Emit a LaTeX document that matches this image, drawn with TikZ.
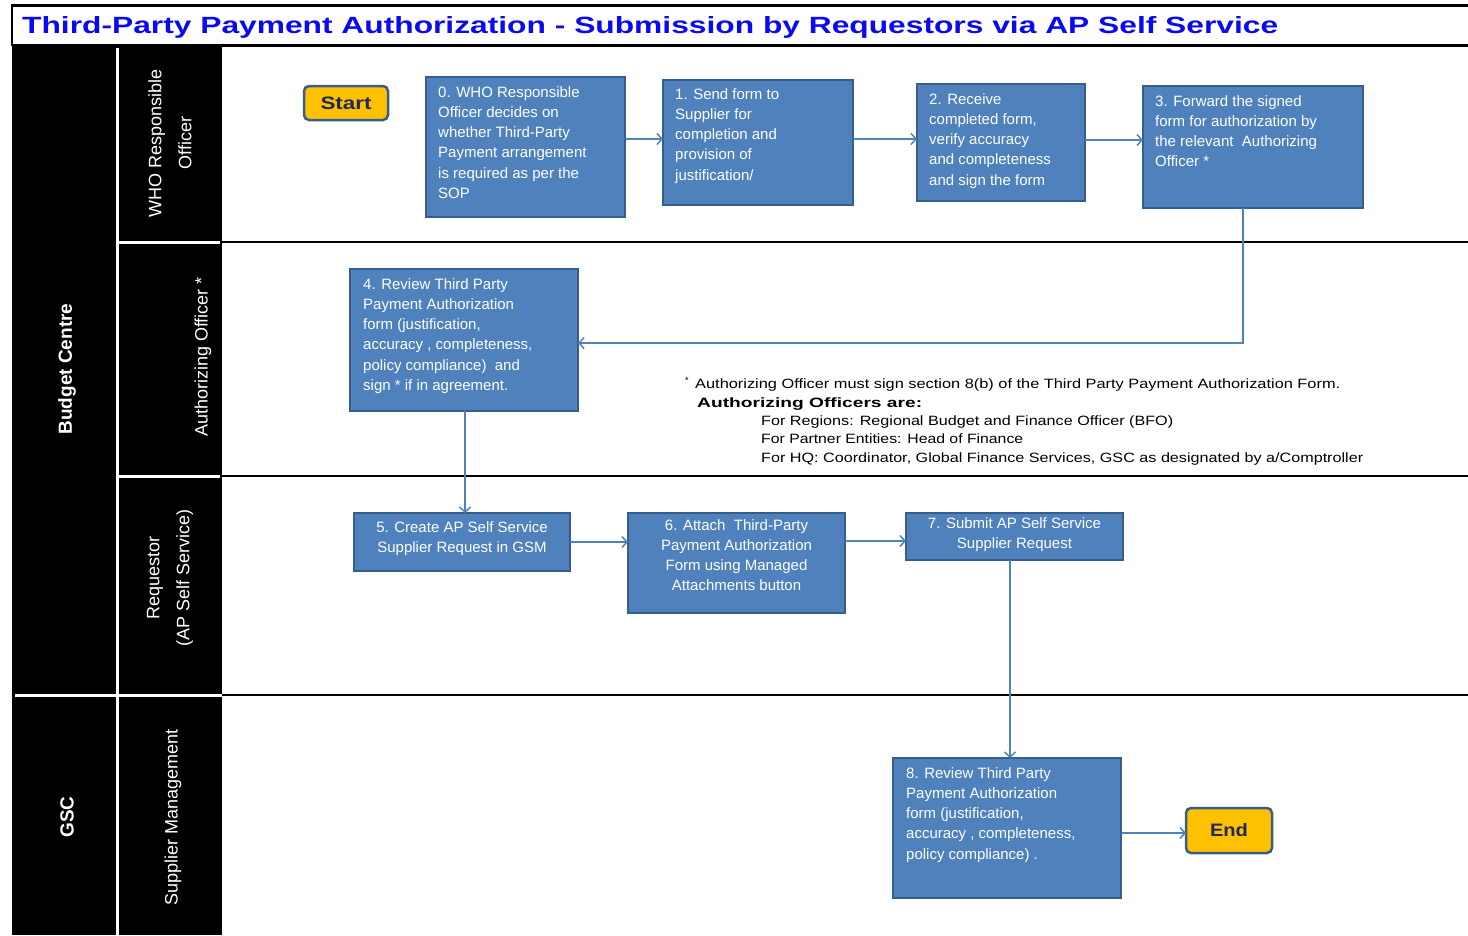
\documentclass[tikz,border=0pt]{standalone}
\usepackage{fontspec}
\setmainfont{Liberation Sans}
\usetikzlibrary{arrows.meta,calc}
\definecolor{boxblue}{HTML}{4F81BD}
\definecolor{boxedge}{HTML}{385D8A}
\definecolor{gold}{HTML}{FFC000}
\definecolor{navy}{HTML}{1F2A5C}
\definecolor{titleblue}{HTML}{0A0AF0}
\begin{document}
\begin{tikzpicture}[x=1pt,y=-1pt,
  pbox/.style={draw=boxedge, line width=2pt, fill=boxblue, anchor=north west, inner sep=0pt, outer sep=0pt},
  ptext/.style={text=white, font=\fontsize{15}{20.3}\selectfont, align=left, anchor=north west, inner sep=0pt},
  ctext/.style={text=white, font=\fontsize{15}{20.3}\selectfont, align=center, anchor=north, inner sep=0pt},
  term/.style={draw=boxedge, line width=2.5pt, fill=gold, rounded corners=5pt, inner sep=0pt, outer sep=0pt, text=navy},
  arr/.style={draw=boxblue, line width=1.5pt, -{Straight Barb[length=5pt,width=11pt,line width=1.5pt]}},
  lane/.style={text=white, rotate=90, align=center, font=\fontsize{18}{30}\selectfont, inner sep=0pt},
  grp/.style={text=white, rotate=90, font=\bfseries\fontsize{19}{22}\selectfont, inner sep=0pt},
  note/.style={anchor=base west, inner sep=0pt, font=\fontsize{13.5}{16}\selectfont}]
\useasboundingbox (0,0) rectangle (1468,935);
% title bar
\draw[line width=3pt] (12,5) -- (1468,5);
\draw[line width=3pt] (12,45) -- (1468,45);
\draw[line width=2pt] (12,4) -- (12,46);
\node[anchor=base west, inner sep=0pt, text=titleblue] (title) at (22,33)
  {\resizebox{1256pt}{\height}{\bfseries\fontsize{23.5}{26}\selectfont Third-Party Payment Authorization - Submission by Requestors via AP Self Service}};
% left black columns
\fill[black] (12,45) rectangle (222,935);
\draw[white, line width=3pt] (117,48) -- (117,935);
\draw[white, line width=3pt] (119,242) -- (220,242);
\draw[white, line width=3pt] (119,476) -- (220,476);
\draw[white, line width=3pt] (15,695) -- (222,695);
% lane separators
\draw[line width=2.5pt] (222,242) -- (1468,242);
\draw[line width=2.5pt] (222,476) -- (1468,476);
\draw[line width=2.5pt] (222,695) -- (1468,695);
% lane labels
\node[grp] (lbc) at (67,369) {Budget Centre};
\node[grp] (lgsc) at (67,817) {GSC};
\node[lane] (lwho) at (170,143) {WHO Responsible\\Officer};
\node[lane] (lauth) at (203,357) {Authorizing Officer *};
\node[lane] (lreq) at (170,578) {Requestor\\(AP Self Service)};
\node[lane] (lsup) at (173,817) {Supplier Management};
% terminals
\node[term, minimum width=84pt, minimum height=34pt] (start) at (346,103)
  {\resizebox{51pt}{\height}{\bfseries\fontsize{18}{22}\selectfont Start}};
\node[term, minimum width=86pt, minimum height=45pt] (end) at (1229,830.5)
  {\resizebox{38pt}{\height}{\bfseries\fontsize{18}{22}\selectfont End}};
% process boxes
\node[pbox, minimum width=199pt, minimum height=140pt] (b0) at (426,77) {};
\node[ptext] (t0) at (438,86) {0. WHO Responsible\\Officer decides on\\whether Third-Party\\Payment arrangement\\is required as per the\\SOP};
\node[pbox, minimum width=190pt, minimum height=125pt] (b1) at (663,80) {};
\node[ptext] (t1) at (675,88) {1. Send form to\\Supplier for\\completion and\\provision of\\justification/};
\node[pbox, minimum width=168pt, minimum height=117pt] (b2) at (917,84) {};
\node[ptext] (t2) at (929,93) {2. Receive\\completed form,\\verify accuracy\\and completeness\\and sign the form};
\node[pbox, minimum width=220pt, minimum height=122pt] (b3) at (1143,86) {};
\node[ptext] (t3) at (1155,95) {3. Forward the signed\\form for authorization by\\the relevant~ Authorizing\\Officer *};
\node[pbox, minimum width=228pt, minimum height=142pt] (b4) at (350,269) {};
\node[ptext] (t4) at (363,278) {4. Review Third Party\\Payment Authorization\\form (justification,\\accuracy , completeness,\\policy compliance)~ and\\sign * if in agreement.};
\node[pbox, minimum width=216pt, minimum height=58pt] (b5) at (354,513) {};
\node[ctext] (t5) at (462,521) {5. Create AP Self Service\\Supplier Request in GSM};
\node[pbox, minimum width=217pt, minimum height=100pt] (b6) at (628,513) {};
\node[ctext] (t6) at (736.5,519) {6. Attach~ Third-Party\\Payment Authorization\\Form using Managed\\Attachments button};
\node[pbox, minimum width=217pt, minimum height=47pt] (b7) at (906,513) {};
\node[ctext] (t7) at (1014.5,517) {7. Submit AP Self Service\\Supplier Request};
\node[pbox, minimum width=228pt, minimum height=140pt] (b8) at (893,758) {};
\node[ptext] (t8) at (906,767) {8. Review Third Party\\Payment Authorization\\form (justification,\\accuracy , completeness,\\policy compliance) .};
% connectors
\draw[arr] (b0.east |- 0,139) -- (b1.west |- 0,139);
\draw[arr] (b1.east |- 0,139) -- (b2.west |- 0,139);
\draw[arr] (b2.east |- 0,140) -- (b3.west |- 0,140);
\draw[arr] (b3.south -| 1243,0) |- (b4.east |- 0,343);
\draw[arr] (b4.south -| 465,0) -- (b5.north -| 465,0);
\draw[arr] (b5.east |- 0,542) -- (b6.west |- 0,542);
\draw[arr] (b6.east |- 0,541) -- (b7.west |- 0,541);
\draw[arr] (b7.south -| 1010,0) -- (b8.north -| 1010,0);
\draw[arr] (b8.east |- 0,833) -- (end.west |- 0,833);
% note
\node[anchor=base west, inner sep=0pt, font=\fontsize{9}{10}\selectfont] (ast) at (685,383) {*};
\node[note] (n1) at (695,388) {\resizebox{645pt}{\height}{Authorizing Officer must sign section 8(b) of the Third Party Payment Authorization Form.}};
\node[note] (n2) at (697,407) {\resizebox{225pt}{\height}{\bfseries Authorizing Officers are:}};
\node[note] (n3) at (761,425) {\resizebox{412pt}{\height}{For Regions: Regional Budget and Finance Officer (BFO)}};
\node[note] (n4) at (761,443) {\resizebox{262pt}{\height}{For Partner Entities: Head of Finance}};
\node[note] (n5) at (761,462) {\resizebox{602pt}{\height}{For HQ: Coordinator, Global Finance Services, GSC as designated by a/Comptroller}};
\end{tikzpicture}
\end{document}
